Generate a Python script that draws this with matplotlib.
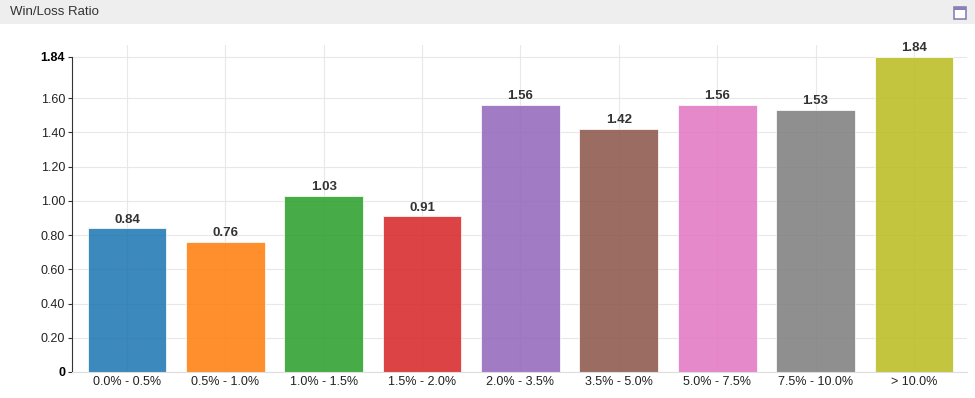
import matplotlib.pyplot as plt
from matplotlib.patches import Rectangle

# data
categories = ["0.0% - 0.5%", "0.5% - 1.0%", "1.0% - 1.5%", "1.5% - 2.0%", "2.0% - 3.5%",
              "3.5% - 5.0%", "5.0% - 7.5%", "7.5% - 10.0%", "> 10.0%"]
ratios = [0.84, 0.76, 1.03, 0.91, 1.56, 1.42, 1.56, 1.53, 1.84]
yticks = [0, 0.2, 0.4, 0.6, 0.8, 1.0, 1.2, 1.4, 1.6, 1.84]
ylabels = ["0", "0.20", "0.40", "0.60", "0.80", "1.00", "1.20", "1.40", "1.60", "1.84"]
colors = ["#1f77b4", "#ff7f0e", "#2ca02c", "#d62728", "#9467bd",
          "#8c564b", "#e377c2", "#7f7f7f", "#bcbd22"]

plt.rcParams['font.family'] = ['Liberation Sans', 'DejaVu Sans']

fig = plt.figure(figsize=(9.75, 3.98), dpi=100)

# header bar
fig.patches.append(Rectangle((0, 1 - 24/398), 1, 24/398, transform=fig.transFigure,
                             facecolor="#eeeeee", edgecolor="none", zorder=0))
fig.text(10/975, 1 - 12/398, "Win/Loss Ratio", fontsize=9.5, color="#333333", va="center", ha="left")
fig.patches.append(Rectangle((954/975, 1 - 19/398), 12/975, 12/398, transform=fig.transFigure,
                             facecolor="white", edgecolor="#8a80b8", linewidth=1.2))
fig.patches.append(Rectangle((954/975, 1 - 10/398), 12/975, 3/398, transform=fig.transFigure,
                             facecolor="#8a80b8", edgecolor="none"))

ax = fig.add_axes([72/975, 26/398, 895/975, 327/398])
x = list(range(len(categories)))
ax.bar(x, ratios, width=0.8, color=colors, alpha=0.87, edgecolor="white", linewidth=0.6, zorder=2)

for xi, v in zip(x, ratios):
    ax.text(xi, v + 0.015, f"{v:.2f}", ha="center", va="bottom", fontsize=9.5,
            fontweight="bold", color="#333333", zorder=4)

ax.set_xlim(-0.56, 8.54)
ax.set_ylim(0, 1.91)
ax.set_xticks(x)
ax.set_xticklabels(categories, fontsize=9, color="#222222")
ax.set_yticks(yticks)
ax.set_yticklabels(ylabels, fontsize=9, color="#222222")
for lab in (ax.get_yticklabels()[0], ax.get_yticklabels()[-1]):
    lab.set_fontweight("bold")
    lab.set_color("black")

ax.tick_params(axis="x", length=0, pad=3)
ax.tick_params(axis="y", length=3, width=0.8, pad=2, color="#333333")

ax.set_axisbelow(True)
ax.grid(True, color="#e8e8e8", linewidth=0.8)

for s in ["top", "right"]:
    ax.spines[s].set_visible(False)
ax.spines["left"].set_bounds(0, 1.84)
ax.spines["left"].set_color("#333333")
ax.spines["bottom"].set_color("#dddddd")

plt.savefig("out.png", dpi=100)
